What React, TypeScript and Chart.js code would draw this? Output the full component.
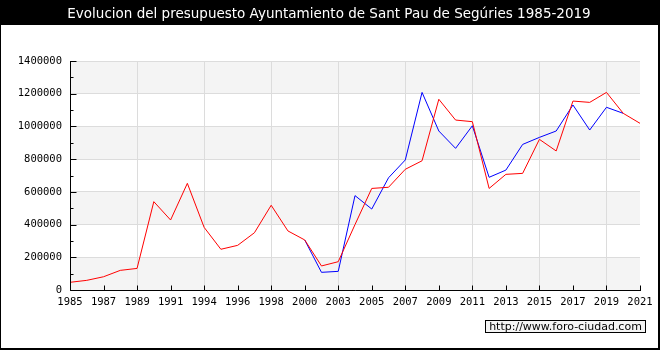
import React, { useEffect, useRef } from "react";
import { Chart, registerables } from "chart.js";

Chart.register(...registerables);

const categories = [
  "1985", "1986", "1987", "1988", "1989", "1990", "1991", "1993", "1994", "1995",
  "1996", "1997", "1998", "1999", "2000", "2002", "2003", "2004", "2005", "2006",
  "2007", "2008", "2009", "2010", "2011", "2012", "2013", "2014", "2015", "2016",
  "2017", "2018", "2019", "2020", "2021",
];

const redSeries = [
  47000, 59000, 81000, 120000, 132000, 540000, 428000, 652000, 383000, 249000,
  273000, 350000, 518000, 361000, 306000, 147000, 173000, 400000, 621000, 628000,
  738000, 790000, 1166000, 1039000, 1029000, 621000, 707000, 713000, 921000, 850000,
  1155000, 1147000, 1208000, 1080000, 1019000,
];

const blueSeries = [
  null, null, null, null, null, null, null, null, null, null,
  null, null, null, null, 306000, 108000, 114000, 577000, 495000, 686000,
  795000, 1208000, 972000, 866000, 1004000, 689000, 733000, 890000, 933000, 972000,
  1131000, 978000, 1117000, 1080000, null,
];

const yMax = 1400000;
const yMajorStep = 200000;
const yMinorStep = 100000;

const titleText = "Evolucion del presupuesto Ayuntamiento de Sant Pau de Segúries 1985-2019";
const watermarkText = "http://www.foro-ciudad.com";

const decorPlugin = {
  id: "decor",
  beforeDraw(chart: any) {
    const { ctx, chartArea } = chart;
    const y = chart.scales.y;
    ctx.save();
    ctx.fillStyle = "#000";
    ctx.fillRect(0, 0, 660, 350);
    ctx.fillStyle = "#fff";
    ctx.fillRect(1, 25, 657, 323);
    ctx.fillStyle = "#f4f4f4";
    for (let v = 0; v < yMax; v += yMajorStep * 2) {
      const yTop = y.getPixelForValue(v + yMajorStep);
      const yBot = y.getPixelForValue(v);
      ctx.fillRect(chartArea.left, yTop, chartArea.right - chartArea.left, yBot - yTop);
    }
    ctx.fillStyle = "#fff";
    ctx.font = "13.5px 'DejaVu Sans'";
    ctx.textAlign = "center";
    ctx.textBaseline = "middle";
    ctx.fillText(titleText, 329, 14);
    ctx.restore();
  },
  afterDraw(chart: any) {
    const { ctx, chartArea } = chart;
    const x = chart.scales.x;
    const y = chart.scales.y;
    ctx.save();
    ctx.strokeStyle = "#000";
    ctx.lineWidth = 1;
    ctx.beginPath();
    const l = Math.round(chartArea.left) + 0.5;
    const b = Math.round(chartArea.bottom) + 0.5;
    ctx.moveTo(l, Math.round(chartArea.top));
    ctx.lineTo(l, b);
    ctx.lineTo(Math.round(chartArea.right) + 1, b);
    for (let i = 0; i < categories.length; i += 2) {
      const px = Math.round(x.getPixelForValue(i)) + 0.5;
      ctx.moveTo(px, b);
      ctx.lineTo(px, b - 5);
    }
    for (let v = 0; v <= yMax; v += yMinorStep) {
      const py = Math.round(y.getPixelForValue(v)) + 0.5;
      const len = v % yMajorStep === 0 ? 6 : 3;
      ctx.moveTo(l, py);
      ctx.lineTo(l + len, py);
    }
    ctx.stroke();

    // watermark
    ctx.font = "11px 'DejaVu Sans'";
    const w = 160;
    const bx = 485.5, by = 320.5, bh = 12;
    ctx.fillStyle = "#f4f4f4";
    ctx.fillRect(bx, by, w, bh);
    ctx.strokeRect(bx, by, w, bh);
    ctx.fillStyle = "#000";
    ctx.textAlign = "center";
    ctx.textBaseline = "middle";
    ctx.fillText(watermarkText, bx + w / 2, by + bh / 2 + 0.5);
    ctx.restore();
  },
};

export default function App() {
  const ref = useRef<HTMLCanvasElement | null>(null);
  useEffect(() => {
    if (!ref.current) return;
    const chart = new Chart(ref.current, {
      type: "line",
      data: {
        labels: categories,
        datasets: [
          {
            label: "red",
            data: redSeries,
            borderColor: "#ff0000",
            borderWidth: 1,
            pointRadius: 0,
            tension: 0,
            fill: false,
          },
          {
            label: "blue",
            data: blueSeries as any,
            borderColor: "#0000ff",
            borderWidth: 1,
            pointRadius: 0,
            tension: 0,
            fill: false,
            spanGaps: false,
          },
        ],
      },
      options: {
        animation: false,
        responsive: false,
        devicePixelRatio: 1,
        layout: { padding: { top: 61, right: 20, left: 0, bottom: 0 } },
        plugins: {
          legend: { display: false },
          title: { display: false },
          tooltip: { enabled: false },
        },
        scales: {
          x: {
            type: "category",
            offset: false,
            border: { display: false },
            grid: {
              drawTicks: false,
              color: (c: any) => (c.index % 2 === 0 ? "#dcdcdc" : "rgba(0,0,0,0)"),
              lineWidth: 1,
            },
            ticks: {
              autoSkip: false,
              maxRotation: 0,
              minRotation: 0,
              padding: 6,
              color: "#000",
              font: { family: "'DejaVu Sans Mono'", size: 10.5 },
              callback: (_v: any, i: number) => (i % 2 === 0 ? categories[i] : null),
            },
            afterFit: (s: any) => {
              s.height = 60;
            },
          },
          y: {
            min: 0,
            max: yMax,
            border: { display: false },
            grid: { drawTicks: false, color: "#dcdcdc", lineWidth: 1 },
            ticks: {
              stepSize: yMajorStep,
              padding: 8,
              color: "#000",
              font: { family: "'DejaVu Sans Mono'", size: 10.5 },
              callback: (v: any) => String(v),
            },
            afterFit: (s: any) => {
              s.width = 70;
            },
          },
        },
      },
      plugins: [decorPlugin],
    });
    return () => chart.destroy();
  }, []);
  return (
    <div style={{ position: "fixed", left: 0, top: 0, width: 660, height: 350 }}>
      <canvas ref={ref} width={660} height={350} style={{ display: "block" }} />
    </div>
  );
}
